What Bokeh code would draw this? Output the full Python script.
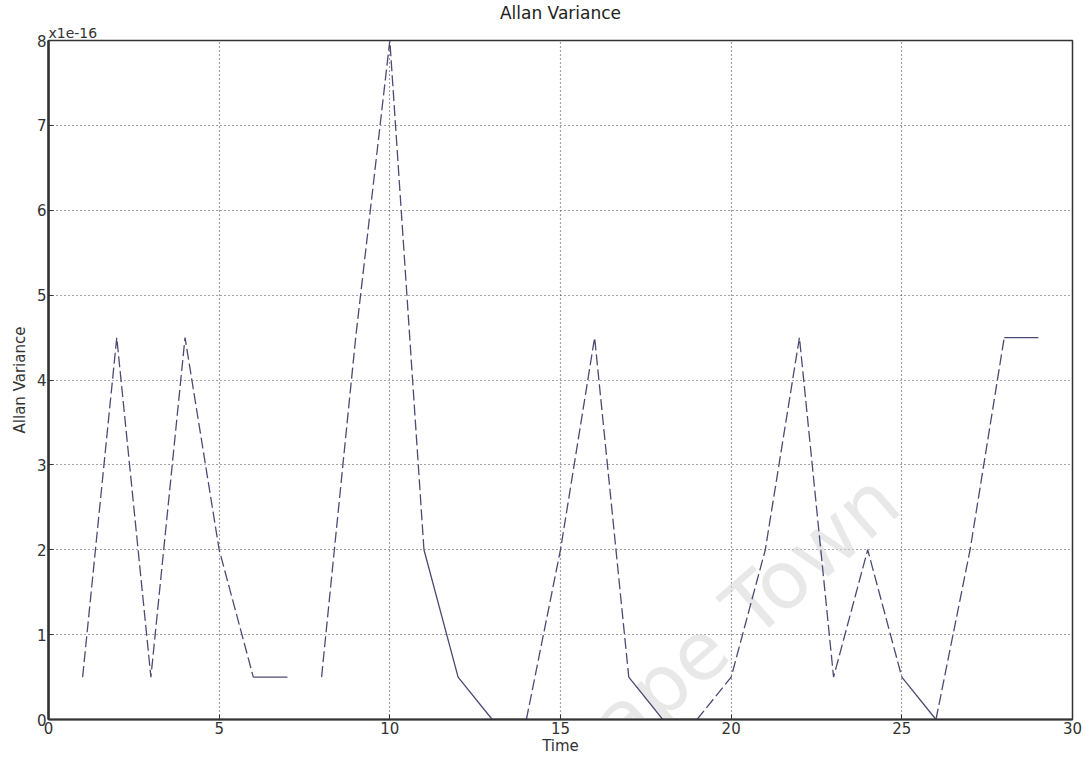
import math
from bokeh.plotting import figure
from bokeh.models import Range1d, FixedTicker, Label, Title
from bokeh.embed import file_html
from bokeh.resources import INLINE

# ---- data (values in units of 1e-16) ----
time = [1, 2, 3, 4, 5, 6, 7, 8, 9, 10, 11, 12, 13, 14, 15, 16, 17, 18, 19, 20,
        21, 22, 23, 24, 25, 26, 27, 28, 29]
allan_var = [0.5, 4.5, 0.5, 4.5, 2.0, 0.5, 0.5, 0.5, 4.5, 8.0, 2.0, 0.5, 0.0, 0.0,
             2.0, 4.5, 0.5, 0.0, 0.0, 0.5, 2.0, 4.5, 0.5, 2.0, 0.5, 0.0, 2.0, 4.5, 4.5]
# style of each segment between consecutive points: d = dashed, s = solid, g = gap
seg_style = ["d", "d", "d", "d", "d", "s", "g", "d", "d", "d", "s", "s", "s",
             "d", "d", "d", "s", "s", "d", "d", "d", "d", "d", "d", "s", "d", "d", "s"]
x_ticks = [0, 5, 10, 15, 20, 25, 30]
y_ticks = [0, 1, 2, 3, 4, 5, 6, 7, 8]

FONT = "DejaVu Sans"
LINE_COLOR = "#4b4b72"
TEXT_COLOR = "#333333"

p = figure(width=1086, height=759, output_backend="svg", toolbar_location=None,
           x_range=Range1d(0, 30), y_range=Range1d(0, 8), title=None,
           min_border_left=48, min_border_right=14, min_border_top=40, min_border_bottom=40)

# offset text (closest to the frame), then main title above it
p.add_layout(Title(text="x1e-16", align="left", text_font=FONT, text_font_size="14px",
                   text_font_style="normal", text_color=TEXT_COLOR, standoff=0), "above")
p.add_layout(Title(text="Allan Variance", align="center", text_font=FONT, text_font_size="17px",
                   text_font_style="normal", text_color="#222222", standoff=0), "above")

for ax in (p.xaxis[0], p.yaxis[0]):
    ax.major_label_text_font = FONT
    ax.major_label_text_font_size = "15px"
    ax.major_label_text_color = TEXT_COLOR
    ax.axis_label_text_font = FONT
    ax.axis_label_text_font_size = "15px"
    ax.axis_label_text_font_style = "normal"
    ax.axis_label_text_color = TEXT_COLOR
    ax.major_tick_in = 5
    ax.major_tick_out = 0
    ax.minor_tick_in = 0
    ax.minor_tick_out = 0
    ax.axis_line_color = "#333333"
    ax.major_tick_line_color = "#333333"
    ax.major_label_standoff = 2

p.xaxis.axis_label_standoff = 0
p.yaxis.axis_label_standoff = 5
p.xaxis.ticker = FixedTicker(ticks=x_ticks)
p.yaxis.ticker = FixedTicker(ticks=y_ticks)
p.xaxis.axis_label = "Time"
p.yaxis.axis_label = "Allan Variance"
p.yaxis.axis_line_width = 2.5
p.xaxis.axis_line_width = 2

p.xgrid.ticker = FixedTicker(ticks=x_ticks)
p.ygrid.ticker = FixedTicker(ticks=y_ticks)
for g in (p.xgrid[0], p.ygrid[0]):
    g.grid_line_color = "#333333"
    g.grid_line_dash = "1 3"
    g.grid_line_width = 1.2
    g.grid_line_alpha = 0.9

p.outline_line_color = "#333333"
p.outline_line_width = 1.5
p.background_fill_color = "white"
p.border_fill_color = "white"

# faint watermark
wm = Label(x=19.8, y=1.05, text="Cape Town", angle=math.radians(41),
           text_align="center", text_baseline="middle", text_font=FONT,
           text_font_size="80px", text_color="#d6d6d6", text_alpha=0.55, level="underlay")
p.add_layout(wm)

# draw runs of equal style
i = 0
n = len(seg_style)
while i < n:
    st = seg_style[i]
    j = i
    while j + 1 < n and seg_style[j + 1] == st:
        j += 1
    if st != "g":
        xs = time[i:j + 2]
        ys = allan_var[i:j + 2]
        if st == "d":
            p.line(xs, ys, line_color=LINE_COLOR, line_width=1.3, line_dash="11 4")
        else:
            p.line(xs, ys, line_color=LINE_COLOR, line_width=1.3)
    i = j + 1

open("out.html", "w").write(file_html(p, INLINE))
